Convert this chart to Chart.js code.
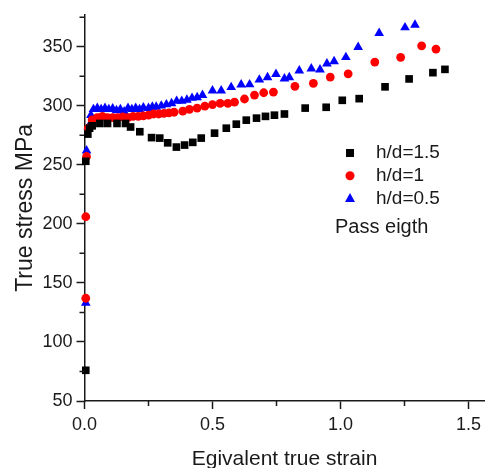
<!DOCTYPE html>
<html>
<head>
<meta charset="utf-8">
<script src="https://cdn.jsdelivr.net/npm/chart.js@4.4.0/dist/chart.umd.min.js"></script>
<style>
  html, body { margin: 0; padding: 0; background: #fff; }
  #wrap { width: 486px; height: 468px; }
</style>
</head>
<body>
<div id="wrap"><canvas id="stressChart" width="486" height="468"></canvas></div>
<script>
// h/d = 1.5 (black squares)
const strainA = [0.005, 0.005, 0.013, 0.02, 0.03, 0.06, 0.09, 0.127, 0.16, 0.18, 0.216, 0.262, 0.294, 0.325, 0.359, 0.391, 0.423, 0.456, 0.508, 0.554, 0.593, 0.632, 0.672, 0.707, 0.742, 0.781, 0.862, 0.944, 1.007, 1.073, 1.174, 1.268, 1.361, 1.408];
const stressA = [76, 253, 276, 281, 283, 285, 285, 285, 285, 282, 278, 273, 272.6, 268.6, 265, 266.7, 269, 272.6, 276.8, 281, 284.4, 287.8, 289.5, 291, 292, 293, 298, 298.7, 304.6, 306, 316, 322.7, 328, 330.8];

// h/d = 1 (red circles)
const strainB = [0.005, 0.005, 0.008, 0.015, 0.03, 0.05, 0.07, 0.09, 0.11, 0.13, 0.15, 0.17, 0.19, 0.21, 0.23, 0.25, 0.27, 0.29, 0.31, 0.33, 0.35, 0.384, 0.41, 0.44, 0.47, 0.50, 0.53, 0.56, 0.586, 0.625, 0.664, 0.70, 0.738, 0.822, 0.894, 0.96, 1.03, 1.134, 1.235, 1.317, 1.373];
const stressB = [137, 206, 257, 281, 288, 290, 291, 290, 290, 290, 290.5, 290, 291, 291, 291.5, 292, 293, 293, 293.5, 294, 294.5, 295.4, 297, 298, 299.6, 301, 302, 302, 303, 305.7, 309, 311, 311.6, 316.4, 319, 324.3, 327, 337, 341, 350.7, 348];

// h/d = 0.5 (blue triangles)
const strainC = [0.005, 0.008, 0.015, 0.025, 0.035, 0.05, 0.065, 0.08, 0.095, 0.11, 0.125, 0.14, 0.155, 0.17, 0.185, 0.2, 0.215, 0.23, 0.25, 0.265, 0.28, 0.3, 0.32, 0.34, 0.36, 0.38, 0.4, 0.42, 0.44, 0.461, 0.5, 0.534, 0.573, 0.612, 0.645, 0.683, 0.715, 0.748, 0.781, 0.8, 0.839, 0.886, 0.92, 0.947, 0.975, 1.021, 1.069, 1.151, 1.252, 1.291];
const stressC = [133, 262, 282, 292, 297, 298, 297, 298, 297, 297.5, 296, 297, 295, 298, 297, 298, 297, 298.5, 298, 299, 299, 300, 301, 302, 304, 304, 305, 306.5, 307, 309, 312.8, 312.8, 315.6, 317.9, 318, 322, 324, 326.8, 323, 324, 329.7, 331.4, 330.5, 335.6, 337.5, 341, 349.6, 361.4, 366.2, 368.5];

const xMajor = [0, 0.5, 1.0, 1.5];
const xMinor = [0.25, 0.75, 1.25];
const yMinor = [75, 125, 175, 225, 275, 325, 375];
const noteText = 'Pass eigth';

const FONT = "'Liberation Sans', Arial, sans-serif";
const INK = '#1a1a1a';

function toPoints(xs, ys) {
    return xs.map((x, i) => ({ x: x, y: ys[i] }));
}

// small outward minor ticks, like the original plot
const minorTicks = {
    id: 'minorTicks',
    afterDraw(chart) {
        const ctx = chart.ctx;
        const xs = chart.scales.x, ys = chart.scales.y;
        const area = chart.chartArea;
        ctx.save();
        ctx.strokeStyle = INK;
        ctx.lineWidth = 1.5;
        ctx.beginPath();
        xMinor.forEach(v => {
            const px = xs.getPixelForValue(v);
            ctx.moveTo(px, area.bottom);
            ctx.lineTo(px, area.bottom + 5);
        });
        yMinor.forEach(v => {
            const py = ys.getPixelForValue(v);
            ctx.moveTo(area.left - 5, py);
            ctx.lineTo(area.left, py);
        });
        ctx.stroke();
        ctx.restore();
    }
};

// legend placed inside the plot, plus the note below it
const insideLegend = {
    id: 'insideLegend',
    afterDraw(chart) {
        const ctx = chart.ctx;
        ctx.save();
        ctx.font = '19px ' + FONT;
        ctx.textBaseline = 'middle';
        ctx.textAlign = 'left';
        chart.data.datasets.forEach((ds, i) => {
            const mx = 350, my = 153 + i * 22.7;
            ctx.fillStyle = ds.backgroundColor;
            ctx.beginPath();
            if (ds.pointStyle === 'rect') {
                ctx.rect(mx - 4, my - 4, 8, 8);
            } else if (ds.pointStyle === 'circle') {
                ctx.arc(mx, my, 4.5, 0, Math.PI * 2);
            } else {
                ctx.moveTo(mx, my - 5.5);
                ctx.lineTo(mx + 5, my + 3.5);
                ctx.lineTo(mx - 5, my + 3.5);
                ctx.closePath();
            }
            ctx.fill();
            ctx.fillStyle = INK;
            ctx.fillText(ds.label, 376, my);
        });
        ctx.font = '20px ' + FONT;
        ctx.fillText(noteText, 335, 227);
        ctx.restore();
    }
};

new Chart(document.getElementById('stressChart'), {
    type: 'scatter',
    data: {
        datasets: [
            {
                label: 'h/d=1.5',
                data: toPoints(strainA, stressA),
                pointStyle: 'rect',
                pointRadius: 5.4,
                backgroundColor: '#000000',
                borderColor: '#000000',
                borderWidth: 0,
                clip: false
            },
            {
                label: 'h/d=1',
                data: toPoints(strainB, stressB),
                pointStyle: 'circle',
                pointRadius: 4.4,
                backgroundColor: '#ff0000',
                borderColor: '#ff0000',
                borderWidth: 0,
                clip: false
            },
            {
                label: 'h/d=0.5',
                data: toPoints(strainC, stressC),
                pointStyle: 'triangle',
                pointRadius: 5.6,
                backgroundColor: '#0000ff',
                borderColor: '#0000ff',
                borderWidth: 0,
                clip: false
            }
        ]
    },
    options: {
        responsive: false,
        animation: false,
        devicePixelRatio: 1,
        layout: { autoPadding: false, padding: { top: 13, right: 0, bottom: 0, left: 0 } },
        plugins: {
            legend: { display: false },
            tooltip: { enabled: false }
        },
        scales: {
            x: {
                type: 'linear',
                min: 0,
                max: 1.563,
                afterFit(scale) { scale.height = 67; },
                afterBuildTicks(scale) { scale.ticks = xMajor.map(v => ({ value: v })); },
                ticks: {
                    callback: v => Number(v).toFixed(1),
                    font: { family: FONT, size: 18 },
                    color: INK,
                    padding: 5,
                    maxRotation: 0
                },
                grid: {
                    drawOnChartArea: false,
                    drawTicks: true,
                    tickLength: 8,
                    tickColor: INK,
                    tickWidth: 1.5
                },
                border: { display: true, color: INK, width: 1.5 },
                title: {
                    display: true,
                    text: 'Egivalent true strain',
                    font: { family: FONT, size: 21, lineHeight: 0.82 },
                    color: INK,
                    padding: 0
                }
            },
            y: {
                type: 'linear',
                min: 50,
                max: 377,
                afterFit(scale) { scale.width = 84.5; },
                ticks: {
                    stepSize: 50,
                    includeBounds: false,
                    font: { family: FONT, size: 18 },
                    color: INK,
                    padding: 4
                },
                grid: {
                    drawOnChartArea: false,
                    drawTicks: true,
                    tickLength: 8,
                    tickColor: INK,
                    tickWidth: 1.5
                },
                border: { display: true, color: INK, width: 1.5 },
                title: {
                    display: true,
                    text: 'True stress MPa',
                    font: { family: FONT, size: 23 },
                    color: INK,
                    padding: { top: 12, bottom: 0 }
                }
            }
        }
    },
    plugins: [minorTicks, insideLegend]
});
</script>
</body>
</html>
